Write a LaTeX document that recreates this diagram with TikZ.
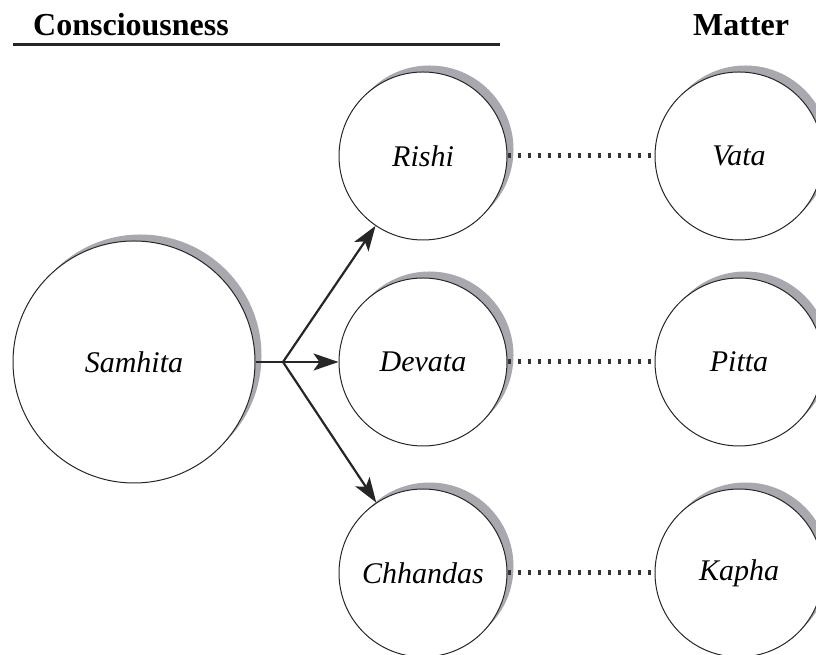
\documentclass[tikz,border=0pt]{standalone}
\usepackage{fontspec}
\setmainfont{Liberation Serif}
\usetikzlibrary{arrows.meta,shadows}
\definecolor{shadowgray}{RGB}{168,168,174}
\tikzset{
  x=1pt, y=1pt,
  orb/.style={circle, draw=black!85, line width=1pt, fill=white, inner sep=0pt,
    minimum size=#1, font=\fontsize{30}{33}\selectfont\itshape,
    general shadow={fill=shadowgray, shadow xshift=6.5pt, shadow yshift=6.5pt}},
  head/.style={font=\fontsize{32}{35}\selectfont\bfseries, inner sep=0pt, anchor=base west},
  flow/.style={line width=2.2pt, draw=black!85, -{Stealth[length=25pt,width=17pt,inset=6pt]}},
  link/.style={line width=5pt, draw=black!80, dash pattern=on 3pt off 7pt}
}
\begin{document}
\begin{tikzpicture}
\useasboundingbox (0,0) rectangle (816,655);

% column headings
\node[head] (hcon) at (33,619) {Consciousness};
\node[head] (hmat) at (693,619) {Matter};
\coordinate (ruleL) at (13,610);
\coordinate (ruleR) at (500,610);
\draw[line width=3pt, black!85] (ruleL) -- (ruleR);

% circles
\node[orb=242pt] (samhita) at (134,293) {Samhita};
\node[orb=168pt] (rishi)    at (423,499) {Rishi};
\node[orb=168pt] (devata)   at (423,293) {Devata};
\node[orb=168pt] (chhandas) at (423,82)  {Chhandas};
\node[orb=168pt] (vata)     at (739,499) {Vata};
\node[orb=168pt] (pitta)    at (739,293) {Pitta};
\node[orb=168pt] (kapha)    at (739,82)  {Kapha};

% branching arrows
\coordinate (fork) at (283,293);
\draw[line width=2.2pt, black!85] (samhita.east) -- (fork);
\draw[flow] (fork) -- (rishi);
\draw[flow] (fork) -- (devata);
\draw[flow] (fork) -- (chhandas);

% dotted correspondences
\draw[link] (rishi.east) -- (vata.west);
\draw[link] (devata.east) -- (pitta.west);
\draw[link] (chhandas.east) -- (kapha.west);
\end{tikzpicture}
\end{document}
